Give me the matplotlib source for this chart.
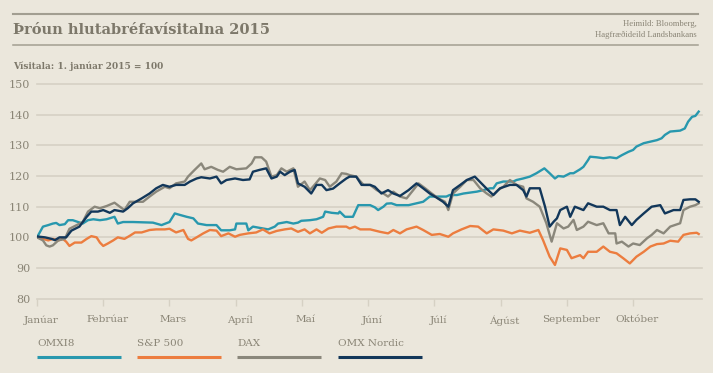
import matplotlib
matplotlib.use("Agg")
import matplotlib.pyplot as plt
from matplotlib.lines import Line2D
import matplotlib.transforms as mtransforms

# ---------------- data (x = months since 1 Jan 2015) ----------------
months = ["Janúar", "Febrúar", "Mars", "Apríl", "Maí", "Júní", "Júlí",
          "Ágúst", "September", "Október"]
yticks = [80, 90, 100, 110, 120, 130, 140, 150]
series_names = ["OMXI8", "S&P 500", "DAX", "OMX Nordic"]

omxi8_x = [0, 0.09, 0.17, 0.24, 0.29, 0.34, 0.42, 0.47, 0.54, 0.62, 0.69, 0.77, 0.85, 0.95,
           1.05, 1.17, 1.22, 1.30, 1.45, 1.60, 1.75, 1.88, 2.00, 2.08, 2.16, 2.26, 2.36, 2.43,
           2.56, 2.71, 2.78, 2.91, 2.99, 3.01, 3.16, 3.19, 3.26, 3.36, 3.49, 3.59, 3.64, 3.77,
           3.87, 3.94, 3.99, 4.12, 4.22, 4.32, 4.35, 4.45, 4.55, 4.57, 4.65,
           4.77, 4.85, 4.95, 5.03, 5.10, 5.15, 5.23, 5.28, 5.35, 5.43, 5.61, 5.73, 5.83, 5.93,
           6.18, 6.23, 6.34, 6.44, 6.64, 6.74, 6.84, 6.89, 6.94, 7.04, 7.19, 7.24, 7.34, 7.44,
           7.54, 7.66, 7.74, 7.82, 7.87, 7.95, 8.05, 8.10, 8.20, 8.25, 8.32, 8.35, 8.45, 8.55,
           8.65, 8.75, 8.83, 8.93, 9.00, 9.05, 9.16, 9.26, 9.36, 9.43, 9.48, 9.56, 9.71, 9.78,
           9.83, 9.89, 9.94, 9.99]
omxi8_y = [100, 103.5, 104, 104.5, 104.7, 104, 104.3, 105.6, 105.6, 105, 104.5, 105.6, 105.9, 105.6,
           105.9, 106.7, 104.5, 105, 105, 104.9, 104.8, 104, 105, 107.8, 107.3, 106.7, 106.2, 104.5,
           104, 104, 102.3, 102.3, 102.6, 104.5, 104.5, 102.3, 103.5, 103.1, 102.6, 103.5, 104.5, 105,
           104.5, 104.8, 105.4, 105.6, 105.9, 106.7, 108.4, 108, 107.8, 108.4, 106.7,
           106.7, 110.5, 110.5, 110.5, 109.8, 108.9, 110, 111, 111.1, 110.5, 110.5, 111.1, 111.6, 113.3,
           113.3, 113.8, 113.8, 114.3, 114.9, 115.4, 116, 116, 117.6, 118.2, 118.2, 118.7, 119.2, 119.8,
           120.9, 122.5, 120.9, 119.2, 120, 119.8, 120.9, 120.9, 122.2, 123, 125.2, 126.3, 126.1, 125.8,
           126.1, 125.8, 126.8, 127.9, 128.5, 129.6, 130.7, 131.2, 131.7, 132.3, 133.4, 134.5, 134.8, 135.5,
           137.7, 139.3, 139.6, 141]

sp500_x = [0, 0.09, 0.17, 0.24, 0.32, 0.39, 0.44, 0.49, 0.57, 0.67, 0.75, 0.82, 0.90, 0.95, 1.00,
           1.07, 1.15, 1.22, 1.32, 1.40, 1.48, 1.58, 1.70, 1.80, 1.93, 2.00, 2.10, 2.21, 2.28, 2.33,
           2.41, 2.51, 2.61, 2.71, 2.78, 2.89, 2.99, 3.06, 3.19, 3.31, 3.41, 3.51, 3.62, 3.74, 3.84,
           3.94, 4.04, 4.12, 4.22, 4.30, 4.40, 4.52, 4.67,
           4.72, 4.80, 4.88, 5.03, 5.18, 5.30, 5.38, 5.48, 5.58, 5.73, 5.83, 5.96, 6.08, 6.21, 6.28,
           6.41, 6.54, 6.66, 6.79, 6.89, 7.04, 7.17, 7.29, 7.44, 7.57, 7.64, 7.74, 7.82, 7.90, 8.00,
           8.07, 8.20, 8.25, 8.32, 8.45, 8.55, 8.65, 8.75, 8.85, 8.95, 9.05, 9.16, 9.26, 9.36, 9.46,
           9.56, 9.68, 9.76, 9.86, 9.96, 9.99]
sp500_y = [100, 99.5, 99, 99.5, 99, 99.5, 98.6, 97.2, 98.3, 98.3, 99.5, 100.4, 100, 98.3, 97.2,
           98, 99, 100, 99.5, 100.5, 101.6, 101.6, 102.4, 102.6, 102.6, 102.8, 101.6, 102.4, 99.5, 99,
           100, 101.3, 102.4, 102.2, 100.4, 101.3, 100.2, 100.8, 101.3, 101.6, 102.6, 101.3, 102.1, 102.6, 102.9,
           101.8, 102.6, 101.3, 102.6, 101.5, 102.9, 103.5, 103.5,
           102.9, 103.5, 102.6, 102.6, 101.8, 101.3, 102.4, 101.3, 102.6, 103.5, 102.4, 100.8, 101.1, 100.2, 101.3,
           102.6, 103.7, 103.5, 101.3, 102.6, 102.2, 101.3, 102.2, 101.5, 102.4, 99.1, 93.7, 91, 96.4, 95.9,
           93.2, 94.2, 93.2, 95.3, 95.3, 97, 95.3, 94.8, 93.2, 91.5, 93.7, 95.3, 97, 97.8, 98,
           98.9, 98.6, 100.8, 101.3, 101.5, 101.1]

dax_x = [0, 0.09, 0.14, 0.19, 0.24, 0.32, 0.42, 0.49, 0.59, 0.69, 0.77, 0.87, 0.95, 1.05, 1.17,
         1.25, 1.32, 1.40, 1.50, 1.60, 1.70, 1.80, 1.93, 2.00, 2.10, 2.23, 2.28, 2.38, 2.48, 2.53,
         2.63, 2.73, 2.81, 2.91, 3.01, 3.16, 3.24, 3.29, 3.39, 3.46, 3.54, 3.62, 3.69, 3.77, 3.87,
         3.94, 4.04, 4.12, 4.19, 4.27, 4.35, 4.42, 4.52, 4.60, 4.67,
         4.72, 4.82, 4.93, 5.03, 5.13, 5.23, 5.30, 5.38, 5.48, 5.58, 5.68, 5.76, 5.86, 5.96, 6.06,
         6.16, 6.21, 6.28, 6.39, 6.49, 6.59, 6.69, 6.79, 6.86, 6.96, 7.04, 7.14, 7.24, 7.34, 7.39,
         7.49, 7.59, 7.69, 7.77, 7.85, 7.95, 8.02, 8.10, 8.15, 8.25, 8.32, 8.45, 8.55, 8.63, 8.73,
         8.75, 8.83, 8.93, 9.00, 9.10, 9.21, 9.28, 9.36, 9.46, 9.56, 9.71, 9.76, 9.86, 9.94, 9.99]
dax_y = [100, 99, 97.4, 97, 97.4, 99, 99.5, 102.8, 103.9, 105, 108.4, 110, 109.5, 110.2, 111.3,
         110, 108.9, 111.6, 111.6, 111.6, 113.3, 114.9, 116.5, 116, 117.6, 118.2, 119.8, 122, 124.1, 122.2,
         123, 122, 121.4, 123, 122.2, 122.5, 124.1, 126.1, 126.1, 124.7, 119.8, 120.3, 122.5, 121.4, 122.5,
         116.5, 118.2, 115.4, 117.1, 119.2, 118.7, 116.5, 118.2, 120.9, 120.7,
         120.3, 119.8, 117.1, 117.1, 115.4, 114.3, 113.3, 114.9, 113.3, 112.7, 115.4, 117.6, 116, 114.3, 112.7,
         111.6, 108.9, 114.3, 116.5, 118.7, 118.7, 116, 114.3, 113.3, 115.4, 116.5, 118.7, 117.1, 116.5, 112.7,
         111.6, 110, 104.6, 98.6, 104.6, 102.9, 103.5, 105.7, 102.4, 103.5, 105.1, 104, 104.6, 101.3, 101.3,
         98, 98.6, 97, 98, 97.5, 99.7, 100.8, 102.4, 101.3, 103.5, 104.6, 108.9, 110, 110.5, 111.1]

nordic_x = [0, 0.12, 0.22, 0.27, 0.34, 0.44, 0.52, 0.64, 0.75, 0.82, 0.92, 1.00, 1.10, 1.17, 1.30,
            1.37, 1.45, 1.58, 1.70, 1.80, 1.90, 2.00, 2.10, 2.23, 2.31, 2.41, 2.48, 2.61, 2.71, 2.78,
            2.86, 2.99, 3.11, 3.21, 3.26, 3.36, 3.46, 3.54, 3.62, 3.67, 3.74, 3.82, 3.89, 3.94, 4.04,
            4.14, 4.22, 4.30, 4.37, 4.47, 4.57, 4.67,
            4.72, 4.82, 4.90, 5.03, 5.10, 5.20, 5.30, 5.38, 5.48, 5.61, 5.73, 5.83, 5.93, 6.03, 6.13,
            6.21, 6.28, 6.39, 6.49, 6.61, 6.71, 6.81, 6.89, 6.99, 7.14, 7.24, 7.34, 7.39, 7.44, 7.59,
            7.67, 7.74, 7.80, 7.85, 7.90, 8.00, 8.05, 8.12, 8.25, 8.32, 8.45, 8.55, 8.65, 8.75, 8.80,
            8.88, 8.98, 9.05, 9.16, 9.28, 9.41, 9.48, 9.61, 9.71, 9.76, 9.86, 9.94, 9.99]
nordic_y = [100.3, 100, 99.5, 99.1, 100, 100, 102.2, 103.5, 106.7, 108.4, 108.4, 108.9, 108, 108.9, 108.4,
            109.5, 111.1, 112.7, 114.3, 116, 117.1, 116.5, 117.1, 117.1, 118.2, 119.2, 119.6, 119.2, 119.8, 117.6,
            118.7, 119.2, 118.7, 118.9, 121.4, 122, 122.5, 119.2, 119.8, 121.4, 120.3, 121.4, 122, 117.6, 116.5,
            114.3, 117.1, 117.1, 115.4, 115.9, 117.6, 119.2,
            119.8, 119.8, 117.1, 117.1, 116.5, 114.3, 115.4, 114.3, 113.5, 115.4, 117.6, 116, 114.3, 113, 111.6,
            110, 115.4, 117.1, 118.7, 119.8, 117.6, 115.4, 113.8, 116, 117.1, 117.1, 115.4, 113.3, 116, 116,
            110, 103.5, 105.1, 106.2, 108.9, 110, 106.7, 110, 108.9, 111.1, 110, 110, 108.9, 108.9, 104,
            106.7, 104, 105.7, 107.8, 110, 110.5, 107.8, 108.9, 108.9, 112.2, 112.4, 112.4, 111.6]

# ---------------- style ----------------
BG = "#ebe7dc"
GRID = "#d6d1c4"
TXT = "#8a8576"
TITLE = "#7d786a"
RULE = "#a29e91"
colors = ["#2898ae", "#ec7d3f", "#8a877b", "#12375a"]
W, H = 713, 373

plt.rcParams["font.family"] = ["DejaVu Serif"]

fig = plt.figure(figsize=(W / 100, H / 100), dpi=100, facecolor=BG)

def fx(px):
    return px / W

def fy(py):
    return 1 - py / H

ax = fig.add_axes([fx(37), fy(298.7), fx(702) - fx(37), fy(84) - fy(298.7)])
ax.set_facecolor(BG)

xs = [omxi8_x, sp500_x, dax_x, nordic_x]
ys = [omxi8_y, sp500_y, dax_y, nordic_y]
for x, y, c in zip(xs, ys, colors):
    ax.plot(x, y, color=c, lw=1.7, solid_joinstyle="round", zorder=3)

ax.set_xlim(0, 10.04)
ax.set_ylim(80, 150)
for s in ax.spines.values():
    s.set_visible(False)
ax.set_yticks(yticks)
ax.set_yticklabels([str(v) for v in yticks])
ax.grid(axis="y", color=GRID, lw=1.2, zorder=1)
for gl in ax.get_ygridlines():
    gl.set_clip_on(False)
ax.set_xticks(range(len(months)))
ax.set_xticklabels(months)
ax.tick_params(axis="y", length=0, pad=5, labelsize=8, labelcolor=TXT)
ax.tick_params(axis="x", length=5, width=1, color=GRID, pad=7, labelsize=7.5, labelcolor=TXT)
off = mtransforms.ScaledTranslation(4 / 100, 0, fig.dpi_scale_trans)
for lab in ax.get_xticklabels():
    lab.set_transform(lab.get_transform() + off)

# ---------------- header ----------------
fig.add_artist(Line2D([fx(13), fx(698)], [fy(14), fy(14)], color=RULE, lw=1.5))
fig.add_artist(Line2D([fx(13), fx(698)], [fy(44.5), fy(44.5)], color=RULE, lw=1.1))
fig.text(fx(13), fy(29.5), "Þróun hlutabréfavísitalna 2015", fontsize=10.5,
         fontweight="bold", color=TITLE, va="center", ha="left")
fig.text(fx(697), fy(24), "Heimild: Bloomberg,", fontsize=6.2, color=TXT,
         va="center", ha="right", family=["Liberation Serif"])
fig.text(fx(697), fy(34.5), "Hagfræðideild Landsbankans", fontsize=6.2, color=TXT,
         va="center", ha="right", family=["Liberation Serif"])
fig.text(fx(13), fy(66), "Vísitala: 1. janúar 2015 = 100", fontsize=6.5,
         fontweight="bold", color=TITLE, va="center", ha="left")

# ---------------- legend ----------------
leg_x0 = [37, 137, 237, 338]
for name, c, x0 in zip(series_names, colors, leg_x0):
    fig.text(fx(x0), fy(343), name, fontsize=7.5, color=TXT, va="center", ha="left")
    fig.add_artist(Line2D([fx(x0), fx(x0 + 84)], [fy(357), fy(357)], color=c, lw=2.2,
                          solid_capstyle="butt"))

fig.savefig("out.png", dpi=100, facecolor=BG)
